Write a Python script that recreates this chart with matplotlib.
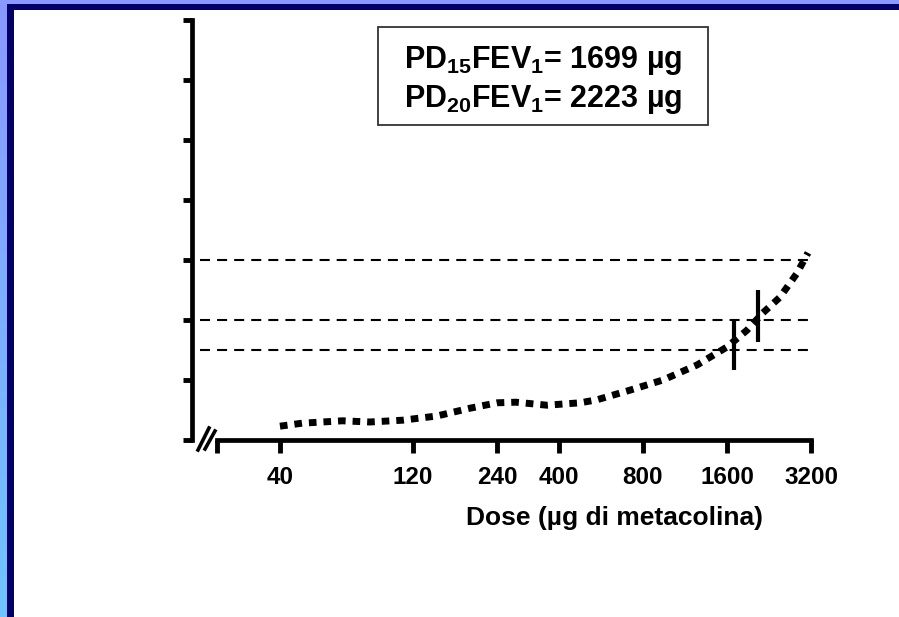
import numpy as np
import matplotlib
matplotlib.use("Agg")
import matplotlib.pyplot as plt
from matplotlib.patches import Rectangle
from matplotlib.lines import Line2D
from matplotlib.ticker import FixedLocator, FixedFormatter, NullLocator

plt.rcParams['font.family'] = ['Liberation Sans', 'DejaVu Sans']
plt.rcParams['mathtext.fontset'] = 'custom'
plt.rcParams['mathtext.rm'] = 'Liberation Sans:bold'
plt.rcParams['mathtext.bf'] = 'Liberation Sans:bold'

# data
dose_ticks = [40, 120, 240, 400, 800, 1600, 3200]
dose = [40, 48, 67, 84, 110, 146, 192, 240, 280, 362, 476, 547,
        718, 943, 1249, 1600, 1887, 2153, 2477, 2851, 3122]
fall = [2.3, 2.8, 3.2, 3.0, 3.3, 4.0, 5.3, 6.2, 6.3, 5.8, 6.2, 6.7,
        8.3, 10.0, 12.5, 15.5, 18.3, 21.2, 23.8, 27.8, 31.2]
thresholds = [15, 20, 30]
pd_doses = [1690, 2070]
pd_low = [11.7, 16.3]
pd_high = [20.0, 25.0]
box_lines = [r'PD$_{\mathbf{15}}$FEV$_{\mathbf{1}}$= 1699 µg',
             r'PD$_{\mathbf{20}}$FEV$_{\mathbf{1}}$= 2223 µg']

W, H = 899, 617
fig = plt.figure(figsize=(W / 100, H / 100), dpi=100)
fig.patch.set_facecolor('white')


def fx(px):
    return px / W


def fy(py):
    return 1 - py / H


# slide frame: gradient strip on the left, navy borders
grad = fig.add_axes([0, 0, fx(7), 1])
grad.imshow(np.linspace(0, 1, 256).reshape(-1, 1), aspect='auto',
            cmap=matplotlib.colors.LinearSegmentedColormap.from_list(
                'edge', ['#8a98ff', '#6ec4ff']))
grad.set_axis_off()
fig.patches.append(Rectangle((0, fy(4)), 1, fy(0) - fy(4), transform=fig.transFigure,
                             facecolor='#8a98ff', edgecolor='none', zorder=0))
fig.patches.append(Rectangle((fx(7), 0), fx(7), fy(4), transform=fig.transFigure,
                             facecolor='#000066', edgecolor='none', zorder=1))
fig.patches.append(Rectangle((fx(7), fy(10)), 1, fy(4) - fy(10), transform=fig.transFigure,
                             facecolor='#000066', edgecolor='none', zorder=1))

ax = fig.add_axes([fx(192), fy(440), fx(811) - fx(192), fy(20) - fy(440)])
ax.set_facecolor('none')
ax.set_xscale('log')
ax.set_xlim(19.36, 3200)
ax.set_ylim(0, 70)

for sp in ['top', 'right']:
    ax.spines[sp].set_visible(False)
ax.spines['left'].set_linewidth(3.4)
ax.spines['bottom'].set_linewidth(3.4)
ax.spines['bottom'].set_bounds(23.8, 3200)

ax.xaxis.set_major_locator(FixedLocator([23.8] + dose_ticks))
ax.xaxis.set_major_formatter(FixedFormatter([''] + [str(d) for d in dose_ticks]))
ax.xaxis.set_minor_locator(NullLocator())
ax.set_yticks(np.arange(0, 71, 10))
ax.set_yticklabels([])
ax.tick_params(axis='x', direction='out', length=9, width=3.5, pad=10,
               labelsize=17.5)
ax.tick_params(axis='y', direction='out', length=6.5, width=3.5)
for lab in ax.get_xticklabels():
    lab.set_fontweight('bold')

# threshold lines
ax.hlines(thresholds, 20.7, 3250, colors='black', linewidth=1.5,
          linestyles=(0, (4.8, 3.4)), clip_on=False)

# dose-response curve
ax.plot(dose, fall, color='black', linewidth=5, linestyle=(0, (1.1, 1.0)),
        solid_capstyle='butt', dash_capstyle='butt', clip_on=False, zorder=3)

# PD markers
ax.vlines(pd_doses, pd_low, pd_high, colors='black', linewidth=3, zorder=4)

# axis break mark
for x0, y0, x1, y1 in [(198, 450, 209, 428), (205, 449, 215, 431)]:
    fig.lines.append(Line2D([fx(x0), fx(x1)], [fy(y0), fy(y1)], transform=fig.transFigure,
                            color='black', linewidth=2.6))

fig.text(fx(614), fy(525), 'Dose (µg di metacolina)', ha='center', va='baseline',
         fontsize=19, fontweight='bold')

# PD box
fig.patches.append(Rectangle((fx(378), fy(125)), fx(708) - fx(378), fy(27) - fy(125),
                             transform=fig.transFigure, facecolor='white',
                             edgecolor='#333333', linewidth=1.3, zorder=2))
for line, base in zip(box_lines, [68, 107]):
    fig.text(fx(543), fy(base), line, ha='center', va='baseline',
             fontsize=22, fontweight='bold', zorder=3)

fig.savefig('out.png', dpi=100)
